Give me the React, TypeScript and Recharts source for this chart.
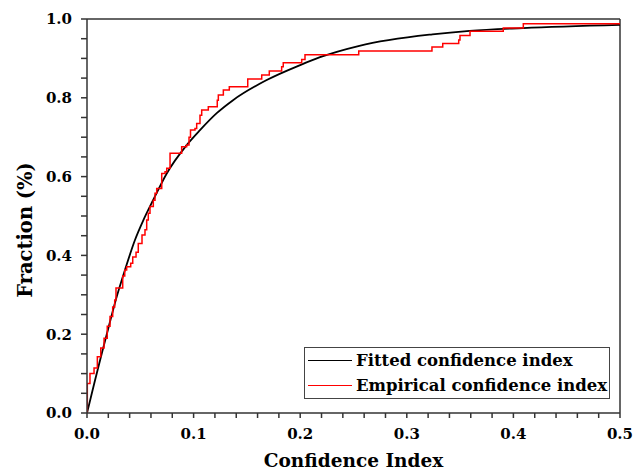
import React from 'react';
import { LineChart, Line, XAxis, YAxis, ReferenceLine, Label } from 'recharts';

const FONT = '"DejaVu Serif", serif';

// fitted curve
const fittedX = [0, 0.005, 0.01, 0.015, 0.02, 0.027, 0.0356, 0.045, 0.053, 0.062, 0.0748, 0.0935, 0.106, 0.1217, 0.137, 0.1686, 0.2, 0.2186, 0.2555, 0.324, 0.359, 0.409, 0.5];
const fittedY = [0, 0.055, 0.11, 0.163, 0.215, 0.287, 0.363, 0.439, 0.49, 0.54, 0.608, 0.68, 0.718, 0.761, 0.794, 0.845, 0.883, 0.903, 0.932, 0.961, 0.97, 0.977, 0.985];

// empirical step function (x where each level starts)
const empiricalX = [0, 0.0003, 0.0028, 0.0066, 0.0097, 0.0129, 0.016, 0.019, 0.0216, 0.0241, 0.026, 0.0272, 0.0335, 0.0354, 0.0372, 0.041, 0.0429, 0.046, 0.0481, 0.0516, 0.0544, 0.056, 0.0575, 0.0591, 0.0622, 0.0638, 0.0654, 0.0701, 0.0732, 0.0748, 0.0779, 0.0888, 0.0935, 0.0957, 0.0971, 0.1013, 0.1029, 0.106, 0.1076, 0.1138, 0.1222, 0.1232, 0.1279, 0.1335, 0.1508, 0.1639, 0.171, 0.1826, 0.1841, 0.2014, 0.2045, 0.2549, 0.3236, 0.3337, 0.3487, 0.3499, 0.3593, 0.3905, 0.4093, 0.5];
const empiricalY = [0, 0.075, 0.1, 0.114, 0.143, 0.165, 0.19, 0.22, 0.245, 0.269, 0.287, 0.317, 0.348, 0.363, 0.371, 0.38, 0.396, 0.408, 0.43, 0.452, 0.465, 0.49, 0.507, 0.524, 0.54, 0.558, 0.57, 0.608, 0.612, 0.621, 0.659, 0.676, 0.68, 0.70, 0.718, 0.722, 0.735, 0.756, 0.769, 0.777, 0.794, 0.807, 0.82, 0.828, 0.848, 0.858, 0.868, 0.879, 0.889, 0.897, 0.909, 0.919, 0.929, 0.938, 0.947, 0.958, 0.969, 0.977, 0.988, 0.988];

const xTicks = [0, 0.02, 0.04, 0.06, 0.08, 0.1, 0.12, 0.14, 0.16, 0.18, 0.2, 0.22, 0.24, 0.26, 0.28, 0.3, 0.32, 0.34, 0.36, 0.38, 0.4, 0.42, 0.44, 0.46, 0.48, 0.5];
const yTicks = [0, 0.05, 0.1, 0.15, 0.2, 0.25, 0.3, 0.35, 0.4, 0.45, 0.5, 0.55, 0.6, 0.65, 0.7, 0.75, 0.8, 0.85, 0.9, 0.95, 1];

const seriesNames = ['Fitted confidence index', 'Empirical confidence index'];
const seriesColors = ['#000000', '#ff0000'];

const fitted = fittedX.map((x, i) => ({ x, y: fittedY[i] }));
const empirical = empiricalX.map((x, i) => ({ x, y: empiricalY[i] }));

const isMajor = (v: number, step: number) => Math.abs(v / step - Math.round(v / step)) < 1e-6;

const tickStyle = { fill: '#000', fontSize: 15, fontWeight: 'bold', fontFamily: FONT };

function LegendBox() {
  return (
    <div
      style={{
        position: 'absolute',
        left: 304,
        top: 347,
        border: '1px solid #444',
        background: '#fff',
        padding: '0px 2px 0px 3px',
        fontFamily: FONT,
        fontWeight: 'bold',
        fontSize: 16.5,
        color: '#000',
        lineHeight: '25px',
      }}
    >
      {seriesNames.map((name, i) => (
        <div key={name} style={{ display: 'flex', alignItems: 'center', whiteSpace: 'nowrap' }}>
          <span style={{ display: 'inline-block', width: 44, height: 0, borderTop: `1.5px solid ${seriesColors[i]}`, marginRight: 4 }} />
          {name}
        </div>
      ))}
    </div>
  );
}

export default function App() {
  return (
    <div style={{ position: 'absolute', left: 0, top: 0, width: 636, height: 470, background: '#fff' }}>
      <LineChart width={636} height={470} margin={{ top: 19, right: 16, bottom: 0, left: 0 }}>
        <XAxis
          type="number"
          dataKey="x"
          domain={[0, 0.5]}
          ticks={xTicks}
          interval={0}
          allowDataOverflow
          tickFormatter={(v: number) => (isMajor(v, 0.1) ? v.toFixed(1) : '')}
          tick={tickStyle}
          tickSize={5}
          tickMargin={10}
          height={57}
          stroke="#333"
          strokeWidth={1.5}
        >
          <Label
            value="Confidence Index"
            position="insideBottom"
            offset={3}
            style={{ fill: '#000', fontSize: 18.5, fontWeight: 'bold', fontFamily: FONT }}
          />
        </XAxis>
        <YAxis
          type="number"
          dataKey="y"
          domain={[0, 1]}
          ticks={yTicks}
          interval={0}
          allowDataOverflow
          tickFormatter={(v: number) => (isMajor(v, 0.2) ? v.toFixed(1) : '')}
          tick={tickStyle}
          tickSize={6}
          tickMargin={9}
          width={87}
          stroke="#333"
          strokeWidth={1.5}
        >
          <Label
            content={() => (
              <text
                x={32}
                y={230}
                transform="rotate(-90 32 230)"
                textAnchor="middle"
                style={{ fill: '#000', fontSize: 19.5, fontWeight: 'bold', fontFamily: FONT }}
              >
                Fraction (%)
              </text>
            )}
          />
        </YAxis>
        <ReferenceLine y={1} stroke="#333" strokeWidth={1.5} />
        <ReferenceLine x={0.5} stroke="#333" strokeWidth={1.5} />
        <Line
          data={fitted}
          dataKey="y"
          type="monotone"
          stroke={seriesColors[0]}
          strokeWidth={1.8}
          dot={false}
          isAnimationActive={false}
          name={seriesNames[0]}
        />
        <Line
          data={empirical}
          dataKey="y"
          type="stepAfter"
          stroke={seriesColors[1]}
          strokeWidth={1.5}
          dot={false}
          isAnimationActive={false}
          name={seriesNames[1]}
        />
      </LineChart>
      <LegendBox />
    </div>
  );
}
